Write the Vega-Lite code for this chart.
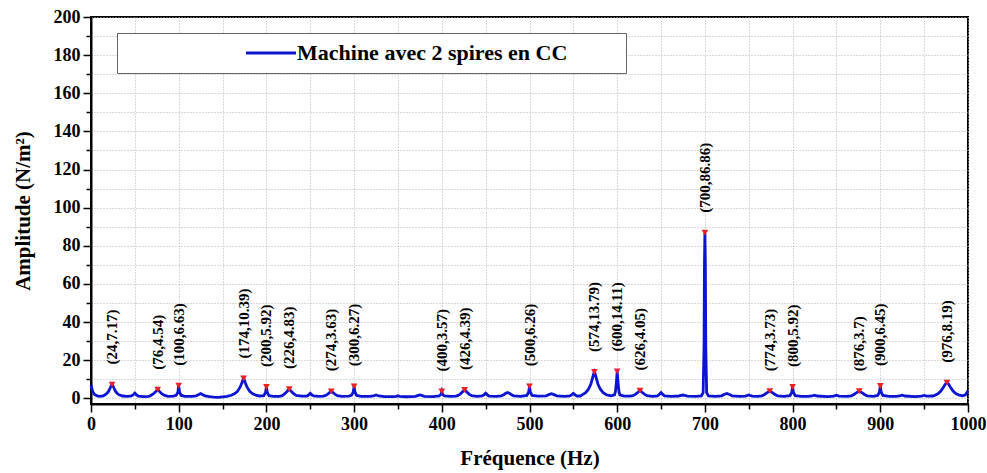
{
  "$schema": "https://vega.github.io/schema/vega-lite/v6.json",
  "width": 877,
  "height": 387,
  "autosize": {"type": "none"},
  "padding": {"left": 91, "top": 17, "right": 19, "bottom": 69},
  "background": "white",
  "config": {
    "view": {"stroke": "black", "strokeWidth": 2},
    "font": "Liberation Serif"
  },
  "datasets": {
    "spectrum": [
      {"f":0,"a":7.0},{"f":1,"a":5.0},{"f":2,"a":3.5},{"f":4,"a":2.0},{"f":7,"a":1.3},{"f":10,"a":1.0},{"f":14,"a":1.3},
      {"f":16,"a":1.8},{"f":18,"a":2.5},{"f":20,"a":3.6},{"f":22,"a":5.5},{"f":23,"a":6.6},{"f":24,"a":7.17},{"f":25,"a":6.6},{"f":26,"a":5.5},{"f":28,"a":3.6},{"f":30,"a":2.5},{"f":32,"a":1.8},{"f":36,"a":1.2},{"f":42,"a":1.0},
      {"f":46,"a":1.2},{"f":48,"a":1.8},{"f":50,"a":2.8},{"f":52,"a":1.8},{"f":54,"a":1.1},{"f":60,"a":0.9},{"f":66,"a":1.0},
      {"f":68,"a":1.5},{"f":71,"a":2.3},{"f":74,"a":3.6},{"f":75,"a":4.2},{"f":76,"a":4.54},{"f":77,"a":4.2},{"f":78,"a":3.6},{"f":81,"a":2.3},{"f":84,"a":1.5},{"f":88,"a":1.0},{"f":94,"a":1.1},
      {"f":97,"a":1.5},{"f":99,"a":3.0},{"f":100,"a":6.63},{"f":101,"a":3.0},{"f":103,"a":1.5},{"f":107,"a":1.0},{"f":115,"a":1.0},
      {"f":120,"a":1.3},{"f":123,"a":2.0},{"f":125,"a":2.5},{"f":127,"a":2.0},{"f":130,"a":1.3},{"f":135,"a":0.9},{"f":140,"a":0.6},{"f":145,"a":0.5},{"f":150,"a":0.7},
      {"f":155,"a":1.0},{"f":160,"a":1.6},{"f":164,"a":2.5},{"f":167,"a":3.6},{"f":170,"a":5.8},{"f":172,"a":8.0},{"f":173,"a":9.4},{"f":174,"a":10.39},{"f":175,"a":9.4},{"f":176,"a":8.0},{"f":178,"a":5.8},{"f":181,"a":3.6},{"f":184,"a":2.5},{"f":188,"a":1.6},{"f":192,"a":1.2},
      {"f":197,"a":1.4},{"f":199,"a":3.0},{"f":200,"a":5.92},{"f":201,"a":3.0},{"f":203,"a":1.4},{"f":208,"a":1.0},{"f":215,"a":1.0},
      {"f":218,"a":1.4},{"f":221,"a":2.4},{"f":224,"a":3.8},{"f":225,"a":4.4},{"f":226,"a":4.83},{"f":227,"a":4.4},{"f":228,"a":3.8},{"f":231,"a":2.4},{"f":234,"a":1.5},{"f":240,"a":1.1},
      {"f":246,"a":1.2},{"f":248,"a":1.7},{"f":250,"a":2.6},{"f":252,"a":1.7},{"f":254,"a":1.2},{"f":260,"a":1.0},{"f":265,"a":1.1},
      {"f":267,"a":1.4},{"f":270,"a":2.2},{"f":272,"a":3.0},{"f":274,"a":3.63},{"f":276,"a":3.0},{"f":278,"a":2.2},{"f":281,"a":1.4},{"f":286,"a":1.0},{"f":294,"a":1.1},
      {"f":297,"a":1.5},{"f":299,"a":3.2},{"f":300,"a":6.27},{"f":301,"a":3.2},{"f":303,"a":1.5},{"f":308,"a":1.0},{"f":318,"a":1.0},
      {"f":322,"a":1.2},{"f":325,"a":1.7},{"f":328,"a":1.2},{"f":335,"a":0.9},{"f":345,"a":0.9},
      {"f":348,"a":1.0},{"f":350,"a":1.3},{"f":352,"a":1.0},{"f":360,"a":0.8},
      {"f":370,"a":1.0},{"f":373,"a":1.5},{"f":375,"a":1.8},{"f":377,"a":1.5},{"f":380,"a":1.0},{"f":390,"a":0.9},
      {"f":397,"a":1.2},{"f":399,"a":2.0},{"f":400,"a":3.57},{"f":401,"a":2.0},{"f":403,"a":1.2},{"f":410,"a":1.0},{"f":416,"a":1.1},
      {"f":418,"a":1.4},{"f":421,"a":2.2},{"f":424,"a":3.6},{"f":425,"a":4.1},{"f":426,"a":4.39},{"f":427,"a":4.1},{"f":428,"a":3.6},{"f":431,"a":2.2},{"f":434,"a":1.4},{"f":440,"a":1.0},
      {"f":446,"a":1.2},{"f":448,"a":1.8},{"f":450,"a":2.7},{"f":452,"a":1.8},{"f":454,"a":1.1},{"f":462,"a":1.0},
      {"f":468,"a":1.3},{"f":471,"a":2.0},{"f":473,"a":2.7},{"f":475,"a":3.0},{"f":477,"a":2.7},{"f":479,"a":2.0},{"f":482,"a":1.3},{"f":490,"a":1.0},
      {"f":497,"a":1.5},{"f":499,"a":3.2},{"f":500,"a":6.26},{"f":501,"a":3.2},{"f":503,"a":1.5},{"f":510,"a":1.1},
      {"f":519,"a":1.3},{"f":522,"a":1.9},{"f":525,"a":2.4},{"f":528,"a":1.9},{"f":531,"a":1.3},{"f":540,"a":1.0},
      {"f":546,"a":1.2},{"f":548,"a":1.8},{"f":550,"a":2.6},{"f":552,"a":1.8},{"f":554,"a":1.2},{"f":558,"a":1.2},
      {"f":560,"a":1.8},{"f":564,"a":3.0},{"f":567,"a":4.6},{"f":570,"a":7.5},{"f":572,"a":10.8},{"f":573,"a":12.6},{"f":574,"a":13.79},{"f":575,"a":12.6},{"f":576,"a":10.8},{"f":578,"a":7.5},{"f":581,"a":4.6},{"f":584,"a":3.0},{"f":588,"a":1.8},{"f":593,"a":1.3},
      {"f":597,"a":1.8},{"f":598,"a":3.5},{"f":599,"a":8.0},{"f":600,"a":14.11},{"f":601,"a":8.0},{"f":602,"a":3.5},{"f":603,"a":1.8},{"f":608,"a":1.1},{"f":614,"a":1.1},
      {"f":618,"a":1.4},{"f":621,"a":2.2},{"f":624,"a":3.3},{"f":625,"a":3.8},{"f":626,"a":4.05},{"f":627,"a":3.8},{"f":628,"a":3.3},{"f":631,"a":2.2},{"f":634,"a":1.4},{"f":640,"a":1.0},
      {"f":646,"a":1.3},{"f":648,"a":2.0},{"f":650,"a":3.0},{"f":652,"a":2.0},{"f":654,"a":1.3},{"f":662,"a":1.0},
      {"f":670,"a":1.2},{"f":673,"a":1.5},{"f":675,"a":1.7},{"f":677,"a":1.5},{"f":680,"a":1.1},{"f":690,"a":1.0},
      {"f":696,"a":1.2},{"f":698,"a":3.0},{"f":699,"a":27.0},{"f":699.5,"a":71.0},{"f":700,"a":86.86},{"f":700.5,"a":71.0},{"f":701,"a":27.0},{"f":702,"a":3.0},{"f":704,"a":1.2},{"f":712,"a":1.0},
      {"f":719,"a":1.3},{"f":722,"a":2.0},{"f":725,"a":2.5},{"f":728,"a":2.0},{"f":731,"a":1.3},{"f":740,"a":1.0},
      {"f":746,"a":1.1},{"f":748,"a":1.4},{"f":750,"a":1.7},{"f":752,"a":1.4},{"f":754,"a":1.1},{"f":760,"a":1.0},
      {"f":765,"a":1.3},{"f":768,"a":2.0},{"f":771,"a":3.0},{"f":773,"a":3.5},{"f":774,"a":3.73},{"f":775,"a":3.5},{"f":777,"a":3.0},{"f":780,"a":2.0},{"f":783,"a":1.3},{"f":790,"a":1.0},
      {"f":797,"a":1.4},{"f":799,"a":3.0},{"f":800,"a":5.92},{"f":801,"a":3.0},{"f":803,"a":1.4},{"f":810,"a":1.0},{"f":818,"a":1.0},
      {"f":822,"a":1.2},{"f":825,"a":1.6},{"f":828,"a":1.2},{"f":840,"a":0.9},
      {"f":847,"a":1.1},{"f":850,"a":1.6},{"f":853,"a":1.1},{"f":862,"a":1.0},
      {"f":867,"a":1.3},{"f":870,"a":2.0},{"f":873,"a":3.0},{"f":875,"a":3.5},{"f":876,"a":3.7},{"f":877,"a":3.5},{"f":879,"a":3.0},{"f":882,"a":2.0},{"f":885,"a":1.3},{"f":892,"a":1.0},
      {"f":897,"a":1.5},{"f":899,"a":3.2},{"f":900,"a":6.45},{"f":901,"a":3.2},{"f":903,"a":1.5},{"f":910,"a":1.0},{"f":918,"a":1.0},
      {"f":922,"a":1.2},{"f":925,"a":1.6},{"f":928,"a":1.2},{"f":940,"a":0.9},
      {"f":947,"a":1.1},{"f":950,"a":1.5},{"f":953,"a":1.1},{"f":960,"a":1.2},
      {"f":962,"a":1.5},{"f":966,"a":2.5},{"f":969,"a":3.8},{"f":972,"a":5.8},{"f":974,"a":7.3},{"f":975,"a":7.9},{"f":976,"a":8.19},{"f":977,"a":7.9},{"f":978,"a":7.3},{"f":980,"a":5.8},{"f":983,"a":3.8},{"f":986,"a":2.5},{"f":990,"a":1.6},{"f":994,"a":1.3},
      {"f":997,"a":1.8},{"f":999,"a":3.2},{"f":1000,"a":4.0}
    ],
    "peaks": [
      {"f":24,"a":7.17,"label":"(24,7.17)"},
      {"f":76,"a":4.54,"label":"(76,4.54)"},
      {"f":100,"a":6.63,"label":"(100,6.63)"},
      {"f":174,"a":10.39,"label":"(174,10.39)"},
      {"f":200,"a":5.92,"label":"(200,5.92)"},
      {"f":226,"a":4.83,"label":"(226,4.83)"},
      {"f":274,"a":3.63,"label":"(274,3.63)"},
      {"f":300,"a":6.27,"label":"(300,6.27)"},
      {"f":400,"a":3.57,"label":"(400,3.57)"},
      {"f":426,"a":4.39,"label":"(426,4.39)"},
      {"f":500,"a":6.26,"label":"(500,6.26)"},
      {"f":574,"a":13.79,"label":"(574,13.79)"},
      {"f":600,"a":14.11,"label":"(600,14.11)"},
      {"f":626,"a":4.05,"label":"(626,4.05)"},
      {"f":700,"a":86.86,"label":"(700,86.86)"},
      {"f":774,"a":3.73,"label":"(774,3.73)"},
      {"f":800,"a":5.92,"label":"(800,5.92)"},
      {"f":876,"a":3.7,"label":"(876,3.7)"},
      {"f":900,"a":6.45,"label":"(900,6.45)"},
      {"f":976,"a":8.19,"label":"(976,8.19)"}
    ]
  },
  "resolve": {"axis": {"x": "independent", "y": "independent"}},
  "layer": [
    {
      "data": {"name": "spectrum"},
      "mark": {"type": "line", "strokeWidth": 2.8, "interpolate": "linear"},
      "encoding": {
        "x": {
          "field": "f", "type": "quantitative",
          "scale": {"domain": [0, 1000], "nice": false, "zero": false},
          "axis": {
            "orient": "bottom",
            "title": "Fréquence (Hz)",
            "format": "d",
            "values": [0,100,200,300,400,500,600,700,800,900,1000],
            "tickSize": 8,
            "tickColor": "black", "tickWidth": 1.5,
            "domainColor": "black", "domainWidth": 2,
            "grid": true, "gridColor": "#b5b5b5", "gridDash": [1, 2], "gridWidth": 1,
            "labelFont": "Liberation Serif", "labelFontWeight": "bold", "labelFontSize": 18, "labelColor": "black",
            "labelPadding": 3, "labelOverlap": false, "labelFlush": false,
            "titleFont": "Liberation Serif", "titleFontWeight": "bold", "titleFontSize": 21, "titleColor": "black",
            "titlePadding": 14
          }
        },
        "y": {
          "field": "a", "type": "quantitative",
          "scale": {"domain": [-3, 200], "nice": false, "zero": false},
          "axis": {
            "orient": "left",
            "title": "Amplitude (N/m²)",
            "format": "d",
            "values": [0,20,40,60,80,100,120,140,160,180,200],
            "tickSize": 8,
            "tickColor": "black", "tickWidth": 1.5,
            "domainColor": "black", "domainWidth": 2,
            "grid": true, "gridColor": "#b5b5b5", "gridDash": [1, 2], "gridWidth": 1,
            "labelFont": "Liberation Serif", "labelFontWeight": "bold", "labelFontSize": 18, "labelColor": "black",
            "labelPadding": 3, "labelOverlap": false, "labelFlush": false,
            "titleFont": "Liberation Serif", "titleFontWeight": "bold", "titleFontSize": 21, "titleColor": "black",
            "titlePadding": 20
          }
        },
        "color": {
          "datum": "Machine avec 2 spires en CC",
          "type": "nominal",
          "scale": {"range": ["#0a14d2"]},
          "legend": {
            "orient": "none", "legendX": 26, "legendY": 16,
            "title": " ", "titleOrient": "left", "titlePadding": 134, "titleFontSize": 10,
            "padding": 9, "fillColor": "white", "strokeColor": "#666666",
            "symbolType": "M-5,0L5,0", "symbolSize": 100, "symbolStrokeWidth": 3, "symbolStrokeColor": "#0a14d2",
            "labelFont": "Liberation Serif", "labelFontWeight": "bold", "labelFontSize": 22, "labelColor": "black",
            "labelOffset": 15, "labelLimit": 700,
            "labelExpr": "datum.label + '\u00a0\u00a0\u00a0\u00a0\u00a0\u00a0\u00a0\u00a0\u00a0\u200b'"
          }
        }
      }
    },
    {
      "data": {"name": "peaks"},
      "mark": {"type": "point", "shape": "triangle-down", "filled": true, "size": 45, "color": "#e8202a", "opacity": 1},
      "encoding": {
        "x": {
          "field": "f", "type": "quantitative",
          "axis": {
            "orient": "bottom", "title": null, "labels": false, "domain": false,
            "values": [50,150,250,350,450,550,650,750,850,950],
            "tickSize": 5, "tickColor": "black", "tickWidth": 1.5,
            "grid": true, "gridColor": "#b5b5b5", "gridDash": [1, 2], "gridWidth": 1
          }
        },
        "y": {
          "field": "a", "type": "quantitative",
          "axis": {
            "orient": "left", "title": null, "labels": false, "domain": false,
            "values": [10,30,50,70,90,110,130,150,170,190],
            "tickSize": 5, "tickColor": "black", "tickWidth": 1.5,
            "grid": true, "gridColor": "#b5b5b5", "gridDash": [1, 2], "gridWidth": 1
          }
        }
      }
    },
    {
      "data": {"name": "peaks"},
      "mark": {"type": "text", "angle": 270, "align": "left", "baseline": "middle", "dx": 20, "font": "Liberation Serif", "fontWeight": "bold", "fontSize": 15, "color": "black"},
      "encoding": {
        "x": {"field": "f", "type": "quantitative", "axis": null},
        "y": {"field": "a", "type": "quantitative", "axis": null},
        "text": {"field": "label"}
      }
    }
  ]
}
